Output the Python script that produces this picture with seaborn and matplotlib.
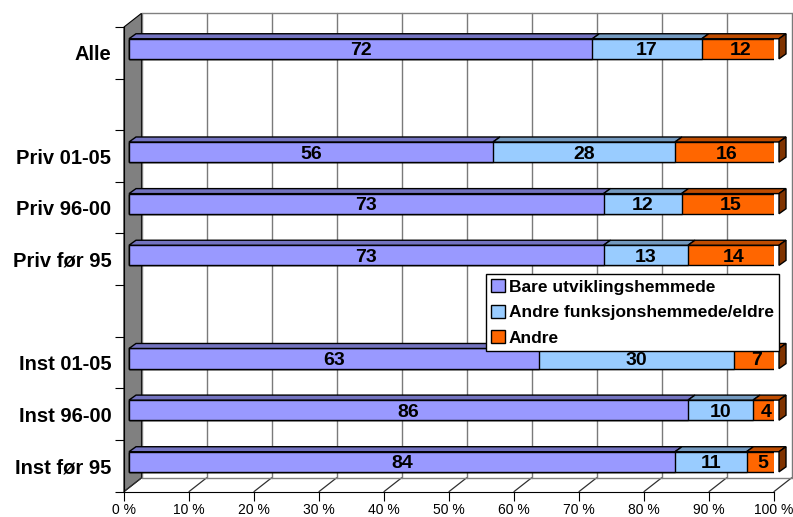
import numpy as np
import pandas as pd
import seaborn as sns
import matplotlib.pyplot as plt
from matplotlib import transforms
from matplotlib.patches import Polygon, Patch

categories = ["Alle", "", "Priv 01-05", "Priv 96-00", "Priv før 95", " ",
              "Inst 01-05", "Inst 96-00", "Inst før 95"]
groups = ["Alle", "Priv 01-05", "Priv 96-00", "Priv før 95",
          "Inst 01-05", "Inst 96-00", "Inst før 95"]
bare = [72, 56, 73, 73, 63, 86, 84]
andre_fh = [17, 28, 12, 13, 30, 10, 11]
andre = [12, 16, 15, 14, 7, 4, 5]
series = ["Bare utviklingshemmede", "Andre funksjonshemmede/eldre", "Andre"]
colors = ["#9999FF", "#99CCFF", "#FF6600"]
tops = ["#7373C0", "#7399BF", "#BF4C00"]
xticks = list(range(0, 101, 10))
xticklabels = [f"{t} %" for t in xticks]

sns.set_style("white")
plt.rcParams["font.family"] = ["Liberation Sans", "DejaVu Sans"]
plt.rcParams["text.color"] = "black"
plt.rcParams["xtick.labelcolor"] = "black"
plt.rcParams["ytick.labelcolor"] = "black"

df = pd.DataFrame({"gruppe": groups, "a": bare, "b": andre_fh, "c": andre})
vals = df[["a", "b", "c"]]
pct = vals.div(vals.sum(axis=1), axis=0) * 100
cum = pct.cumsum(axis=1)

fig = plt.figure(figsize=(7.93, 5.17), dpi=100)
ax = fig.add_axes([124 / 793, 25.4 / 517, 650 / 793, 464.6 / 517])

# pixel -> data helpers (3d look)
px = ax.bbox.width / 100
py = ax.bbox.height / 9
WX, WY = 17.5 / px, 13.7 / py      # wall depth
BX, BY = 7 / px, 5 / py            # bar depth
shift = ax.transData + transforms.ScaledTranslation(5 / 100, 4 / 100, fig.dpi_scale_trans)
h = 0.39

# stacked bars: draw cumulative totals back to front
for col, c in zip(["c", "b", "a"], colors[::-1]):
    sns.barplot(x=cum[col], y=df["gruppe"], order=categories, color=c,
                orient="h", width=h, edgecolor="black", linewidth=1,
                saturation=1, ax=ax, zorder=2)
for p in ax.patches:
    p.set_transform(shift)

ax.set_xlim(0, 100)
ax.set_ylim(8.5, -0.5)

# walls and floor
ax.add_patch(Polygon([(0, -0.5), (WX, -0.5 - WY), (WX, 8.5 - WY), (0, 8.5)],
                     closed=True, facecolor="#808080", edgecolor="black",
                     lw=0.8, zorder=0.5, clip_on=False))
for t in xticks:
    ax.plot([t + WX, t + WX], [-0.5 - WY, 8.5 - WY], color="#7a7a7a", lw=1,
            zorder=0.6, clip_on=False)
    ax.plot([t, t + WX], [8.5, 8.5 - WY], color="#303030", lw=0.9,
            zorder=0.6, clip_on=False)
ax.plot([WX, 100 + WX], [-0.5 - WY] * 2, color="#808080", lw=1, zorder=0.6, clip_on=False)
ax.plot([WX, 100 + WX], [8.5 - WY] * 2, color="#808080", lw=1, zorder=0.6, clip_on=False)

# top / side faces and value labels
for i, g in enumerate(groups):
    y = categories.index(g)
    start = 0
    for j, col in enumerate(["a", "b", "c"]):
        end = cum[col].iloc[i]
        yt = y - h / 2
        ax.add_patch(Polygon([(start, yt), (end, yt), (end + BX, yt - BY), (start + BX, yt - BY)],
                             closed=True, facecolor=tops[j], edgecolor="black", lw=1,
                             zorder=2, transform=shift, clip_on=False))
        ax.text((start + end) / 2, y, str(vals[col].iloc[i]), ha="center",
                va="center_baseline", fontsize=14, fontweight="bold",
                color="black", transform=shift, zorder=3)
        start = end
    ax.add_patch(Polygon([(100, y - h / 2), (100 + BX, y - h / 2 - BY),
                          (100 + BX, y + h / 2 - BY), (100, y + h / 2)],
                         closed=True, facecolor="#803300", edgecolor="black", lw=1,
                         zorder=2, transform=shift, clip_on=False))

ax.set_xlabel("")
ax.set_ylabel("")
ax.set_xticks(xticks, xticklabels)
ax.set_yticks(range(len(categories)), categories)
ax.set_yticks(np.arange(-0.5, 9, 1), minor=True)
ax.tick_params(axis="x", direction="out", length=6.5, width=0.8, pad=1.5,
               labelsize=10, bottom=True, color="black")
ax.tick_params(axis="y", which="major", length=0, pad=9, labelsize=14.5)
ax.tick_params(axis="y", which="minor", direction="out", length=6.5, width=0.8,
               left=True, color="black")
for lbl in ax.get_yticklabels():
    lbl.set_fontweight("bold")
for s in ["top", "right"]:
    ax.spines[s].set_visible(False)
for s in ["left", "bottom"]:
    ax.spines[s].set_color("black")
    ax.spines[s].set_linewidth(0.8)
ax.patch.set_alpha(0)

handles = [Patch(facecolor=c, edgecolor="black", lw=1, label=s) for s, c in zip(series, colors)]
leg = ax.legend(handles=handles, loc="upper right", bbox_to_anchor=(1.008, 0.468),
                borderaxespad=0, prop={"weight": "bold", "size": 12.5},
                handlelength=0.8, handleheight=0.75, handletextpad=0.25,
                labelspacing=0.58, borderpad=0.3, fancybox=False, framealpha=1,
                edgecolor="black")
leg.get_frame().set_linewidth(1)
leg.set_zorder(5)

fig.savefig("out.png", dpi=100)
